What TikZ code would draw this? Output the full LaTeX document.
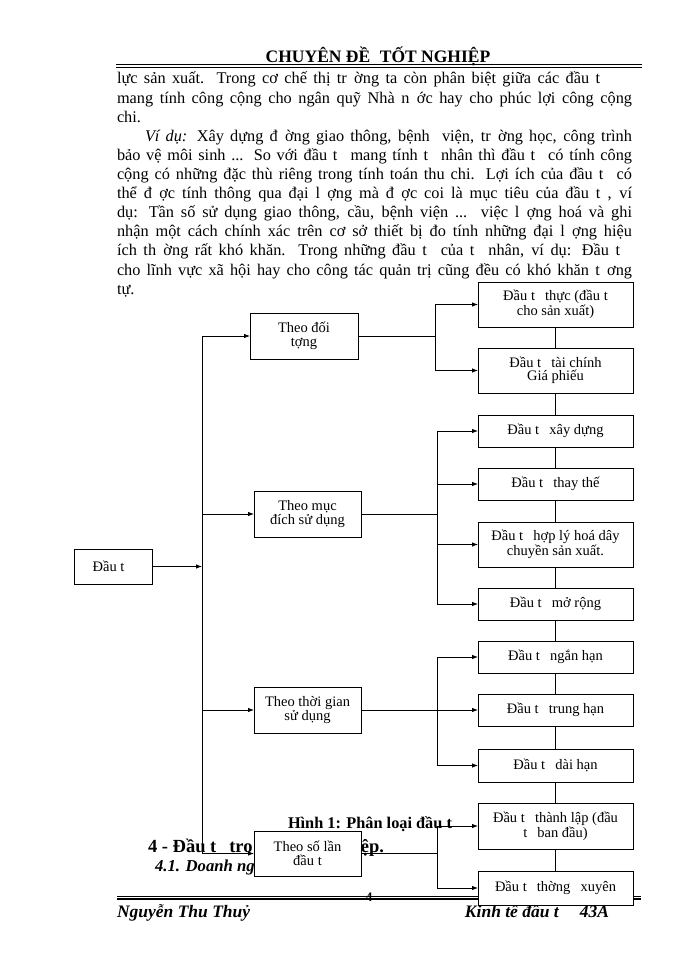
\documentclass[tikz,border=0pt]{standalone}
\usepackage{fontspec}
\setmainfont{Liberation Serif}
\usetikzlibrary{arrows.meta}
\newcommand{\U}{\hspace*{0.45em}}
\begin{document}
\begin{tikzpicture}[x=1pt,y=-1pt,
  every node/.style={inner sep=0pt, outer sep=0pt},
  bodytext/.style={anchor=base west, font=\fontsize{16.3}{18}\selectfont},
  boldtext/.style={anchor=base west, font=\bfseries\fontsize{16.3}{18}\selectfont},
  box/.style={draw=black, line width=0.9pt, fill=white, align=center, font=\fontsize{14.5}{13.5}\selectfont},
  lbox/.style={box, minimum width=107pt, minimum height=46pt},
  rbox/.style={box, minimum width=155pt, minimum height=32pt},
  rboxt/.style={box, minimum width=155pt, minimum height=45pt},
  conn/.style={line width=0.8pt},
  arr/.style={conn, -{Latex[length=6pt,width=4.5pt]}},
]
\fill[white] (0,0) rectangle (700,960);
\path[use as bounding box] (0,0) rectangle (700,960);

% header
\node[anchor=base, font=\bfseries\fontsize{17.5}{20}\selectfont] (hdr) at (378,63) {CHUYÊN ĐỀ\hspace*{0.3em} TỐT NGHIỆP};
\draw[line width=1.8pt] (116,64.5) -- (642,64.5);
\draw[line width=0.7pt] (116,67.3) -- (642,67.3);

% body text
\node[bodytext] (l1) at (117,84) {\makebox[483pt][s]{lực sản xuất. Trong cơ chế thị tr\U{}ờng ta còn phân biệt giữa các đầu t}};
\node[bodytext] (l2) at (117,103.1) {\makebox[515pt][s]{mang tính công cộng cho ngân quỹ Nhà n\U{}ớc hay cho phúc lợi công cộng}};
\node[bodytext] (l3) at (117,122.2) {chi.};
\node[bodytext] (l4) at (145,141.3) {\makebox[487pt][s]{\textit{Ví dụ:} Xây dựng đ\U{}ờng giao thông, bệnh\ \ viện, tr\U{}ờng học, công trình}};
\node[bodytext] (l5) at (117,160.4) {\makebox[515pt][s]{bảo vệ môi sinh ... So với đầu t\U{} mang tính t\U{} nhân thì đầu t\U{} có tính công}};
\node[bodytext] (l6) at (117,179.5) {\makebox[515pt][s]{cộng có những đặc thù riêng trong tính toán thu chi. Lợi ích của đầu t\U{} có}};
\node[bodytext] (l7) at (117,198.6) {\makebox[515pt][s]{thể đ\U{}ợc tính thông qua đại l\U{}ợng mà đ\U{}ợc coi là mục tiêu của đầu t\U{}, ví}};
\node[bodytext] (l8) at (117,217.7) {\makebox[515pt][s]{dụ: Tần số sử dụng giao thông, cầu, bệnh viện ... việc l\U{}ợng hoá và ghi}};
\node[bodytext] (l9) at (117,236.8) {\makebox[515pt][s]{nhận một cách chính xác trên cơ sở thiết bị đo tính những đại l\U{}ợng hiệu}};
\node[bodytext] (l10) at (117,255.9) {\makebox[503pt][s]{ích th\U{}ờng rất khó khăn. Trong những đầu t\U{} của t\U{} nhân, ví dụ: Đầu t}};
\node[bodytext] (l11) at (117,275) {\makebox[515pt][s]{cho lĩnh vực xã hội hay cho công tác quản trị cũng đều có khó khăn t\U{}ơng}};
\node[bodytext] (l12) at (117,294.1) {tự.};

% caption and following headings (partly hidden behind a box)
\node[boldtext] (cap) at (288,828) {Hình 1: Phân loại đầu t};
\node[anchor=base west, font=\bfseries\fontsize{18.5}{20}\selectfont] (h4a) at (148,852) {4 - Đầu t\U{}\ tro};
\node[anchor=base east, font=\bfseries\fontsize{18.5}{20}\selectfont] (h4b) at (384,852) {ệp.};
\node[anchor=base west, font=\bfseries\itshape\fontsize{16.7}{18}\selectfont] (h41) at (155,871) {4.1. Doanh ng};

% footer
\draw[line width=0.7pt] (117,896) -- (641,896);
\draw[line width=1.8pt] (117,898.6) -- (641,898.6);
\node[font=\bfseries\fontsize{13}{14}\selectfont] (pg) at (369,897) {4};
\node[anchor=base west, font=\bfseries\itshape\fontsize{17.5}{18}\selectfont] (ft1) at (117,917) {Nguyễn Thu Thuỷ};
\node[anchor=base east, font=\bfseries\itshape\fontsize{17.5}{18}\selectfont] (ft2) at (609,917) {Kinh tế đầu t\hspace*{1.2em}43A};

% --- boxes ---
\node[box, minimum width=78pt, minimum height=35pt] (dau) at (113,566.5) {\hspace*{-9pt}Đầu t};
\node[lbox, minimum width=108pt] (A) at (304,336) {Theo đối\\tợng};
\node[lbox] (B) at (307.5,514) {Theo mục\\đích sử dụng};
\node[lbox] (C) at (307.5,710) {Theo thời gian\\sử dụng};
\node[lbox, minimum height=45pt] (D) at (307.5,853.5) {Theo số lần\\đầu t};

\node[rboxt] (r1) at (555.5,304.5) {Đầu t\U{} thực (đầu t\\cho sản xuất)};
\node[rboxt] (r2) at (555.5,370.5) {Đầu t\U{} tài chính\\Giá phiếu};
\node[rbox] (r3) at (555.5,431) {Đầu t\U{} xây dựng};
\node[rbox] (r4) at (555.5,484) {Đầu t\U{} thay thế};
\node[rboxt] (r5) at (555.5,544.5) {Đầu t\U{} hợp lý hoá dây\\chuyền sản xuất.};
\node[rbox] (r6) at (555.5,604) {Đầu t\U{} mở rộng};
\node[rbox] (r7) at (555.5,657) {Đầu t\U{} ngắn hạn};
\node[rbox] (r8) at (555.5,710) {Đầu t\U{} trung hạn};
\node[rbox, minimum height=33pt] (r9) at (555.5,765.5) {Đầu t\U{} dài hạn};
\node[rboxt, minimum height=46pt] (r10) at (555.5,826) {Đầu t\U{} thành lập (đầu\\t\U{} ban đầu)};
\node[rbox, minimum height=34pt] (r11) at (555.5,888) {Đầu t\U{} thờng\U{} xuyên};

% --- trunk ---
\coordinate (tTop) at (202,336);
\coordinate (tBot) at (202,853.5);
\coordinate (tDau) at (202,566.5);
\draw[conn] (tTop) -- (tBot);
\draw[arr] (dau.east) -- (tDau);
\draw[arr] (tTop) -- (A.west);
\draw[arr] (tTop |- B.west) -- (B.west);
\draw[arr] (tTop |- C.west) -- (C.west);
\draw[arr] (tBot) -- (D.west);

% --- group 1 ---
\coordinate (j1) at (435,336);
\draw[conn] (A.east) -- (j1);
\draw[conn] (j1 |- r1.west) -- (j1 |- r2.west);
\draw[arr] (j1 |- r1.west) -- (r1.west);
\draw[arr] (j1 |- r2.west) -- (r2.west);

% --- group 2 ---
\coordinate (j2) at (437,514);
\draw[conn] (B.east) -- (j2);
\draw[conn] (j2 |- r3.west) -- (j2 |- r6.west);
\foreach \r in {r3,r4,r5,r6} \draw[arr] (j2 |- \r.west) -- (\r.west);

% --- group 3 ---
\coordinate (j3) at (437,710);
\draw[arr] (C.east) -- (r8.west);
\draw[conn] (j3 |- r7.west) -- (j3 |- r9.west);
\draw[arr] (j3 |- r7.west) -- (r7.west);
\draw[arr] (j3 |- r9.west) -- (r9.west);

% --- group 4 ---
\coordinate (j4) at (437,853.5);
\draw[conn] (D.east) -- (j4);
\draw[conn] (j4 |- r10.west) -- (j4 |- r11.west);
\draw[arr] (j4 |- r10.west) -- (r10.west);
\draw[arr] (j4 |- r11.west) -- (r11.west);

% --- vertical links between right boxes ---
\foreach \a/\b in {r1/r2,r2/r3,r3/r4,r4/r5,r5/r6,r6/r7,r7/r8,r8/r9,r9/r10,r10/r11}
  \draw[conn] (\a.south) -- (\b.north);
\end{tikzpicture}
\end{document}
